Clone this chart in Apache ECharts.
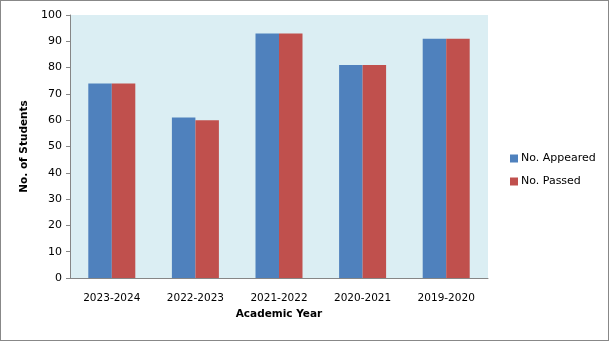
<!DOCTYPE html>
<html><head><meta charset="utf-8">
<script src="https://cdn.jsdelivr.net/npm/echarts@6/dist/echarts.min.js"></script>
<style>
html,body{margin:0;padding:0;background:#fff;}
#c{width:607px;height:339px;border:1px solid #888;}
</style></head>
<body><div id="c"></div>
<script>
const categories = ['2023-2024','2022-2023','2021-2022','2020-2021','2019-2020'];
const appeared = [74, 61, 93, 81, 91];
const passed = [74, 60, 93, 81, 91];
const seriesNames = ['No. Appeared','No. Passed'];

const chart = echarts.init(document.getElementById('c'));
const font = 'DejaVu Sans, Verdana, sans-serif';
chart.setOption({
  animation:false,
  textStyle:{fontFamily:font},
  grid:{left:69,top:14,width:418,height:263,backgroundColor:'#DBEEF3',show:true,borderWidth:0},
  legend:{orient:'vertical',left:504,top:147,itemWidth:8,itemHeight:8,itemGap:12,icon:'rect',
    textStyle:{fontFamily:font,fontSize:11,color:'#000',padding:[0,0,0,-2]},data:seriesNames},
  xAxis:{type:'category',data:categories,
    name:'Academic Year',nameLocation:'middle',nameGap:31,
    nameTextStyle:{fontFamily:font,fontSize:10.5,fontWeight:'bold',color:'#000'},
    axisLine:{lineStyle:{color:'#868686'}},axisTick:{show:false},
    axisLabel:{fontFamily:font,fontSize:10.5,color:'#000',margin:15}},
  yAxis:{type:'value',min:0,max:100,interval:10,
    name:'No. of Students',nameLocation:'middle',nameGap:33,
    nameTextStyle:{fontFamily:font,fontSize:10.5,fontWeight:'bold',color:'#000'},
    axisLine:{show:true,lineStyle:{color:'#868686'}},axisTick:{show:true,length:4,lineStyle:{color:'#868686'}},
    splitLine:{show:false},
    axisLabel:{fontFamily:font,fontSize:11,color:'#000',margin:8}},
  series:[
    {name:seriesNames[0],type:'bar',data:appeared,barWidth:23.5,barGap:'0%',itemStyle:{color:'#4F81BD'}},
    {name:seriesNames[1],type:'bar',data:passed,barWidth:23.5,barGap:'0%',itemStyle:{color:'#C0504D'}}
  ]
});
</script></body></html>
